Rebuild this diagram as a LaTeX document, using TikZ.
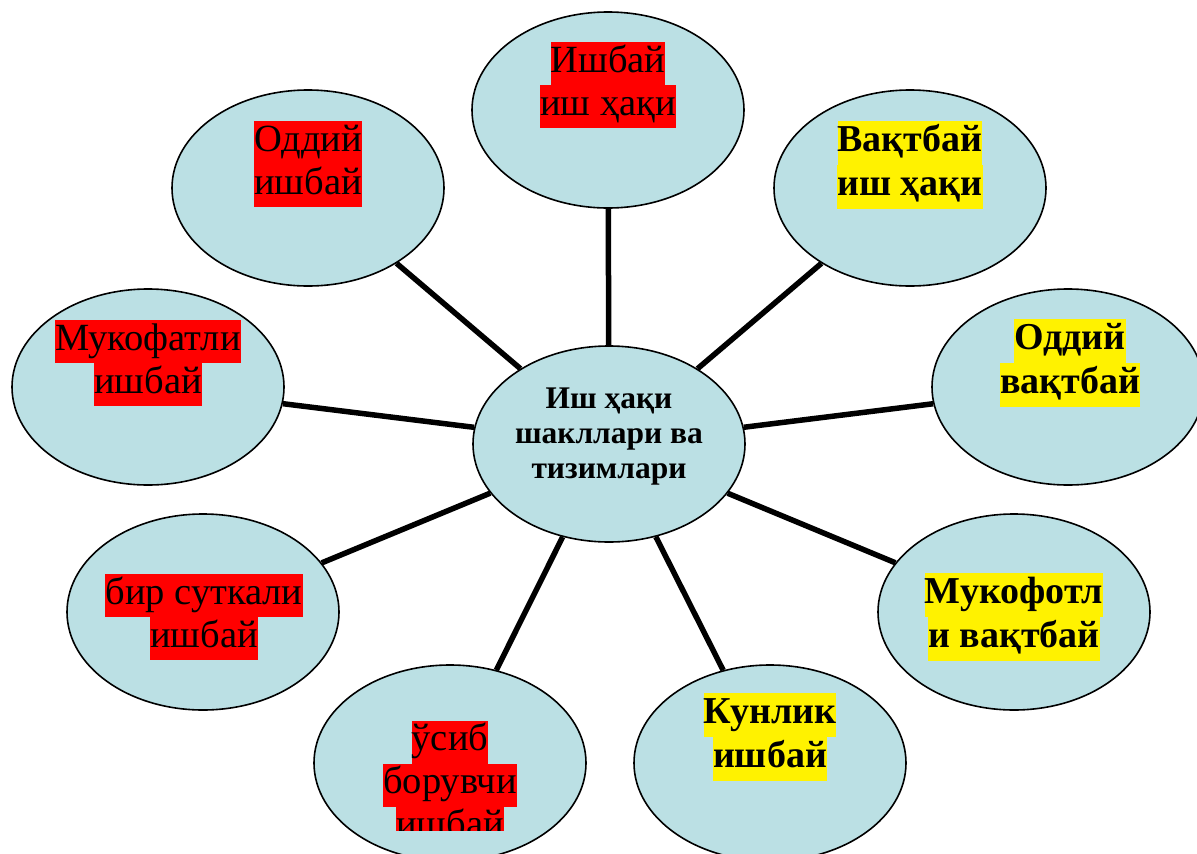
\documentclass[tikz,border=0pt]{standalone}
\usepackage{fontspec}
\setmainfont{Liberation Serif}
\usetikzlibrary{shapes.geometric}

\definecolor{blobfill}{RGB}{187,224,228}
\setlength{\fboxsep}{0pt}
\newcommand{\hlred}[1]{\colorbox{red}{\strut #1}}
\newcommand{\hlyel}[1]{\colorbox{yellow}{\strut #1}}

\tikzset{
  blob/.style={ellipse, draw, line width=1.6pt, fill=blobfill,
    minimum width=272pt, minimum height=196pt, inner sep=0pt},
  spoke/.style={line width=5.5pt},
  redtxt/.style={font=\fontsize{38.5}{43}\selectfont, align=center, inner sep=0pt},
  yeltxt/.style={font=\fontsize{38}{44}\selectfont\bfseries, align=center, inner sep=0pt},
  hubtxt/.style={font=\fontsize{31.5}{35}\selectfont\bfseries, align=center, inner sep=0pt}
}

\begin{document}
\begin{tikzpicture}[x=1pt, y=-1pt]
  \useasboundingbox (0,0) rectangle (1197,854);
  \clip (0,0) rectangle (1197,854);
  % ellipses
  \node[blob] (hub) at (609,444) {};
  \node[blob] (top) at (608,110) {};
  \node[blob] (tl) at (308,188) {};
  \node[blob] (tr) at (910,188) {};
  \node[blob] (l) at (148,387) {};
  \node[blob] (r) at (1068,387) {};
  \node[blob] (bl) at (203,612) {};
  \node[blob] (br) at (1014,612) {};
  \node[blob] (b) at (450,763) {};
  \node[blob] (bc) at (770,763) {};
  % spokes
  \draw[spoke] (hub) -- (top);
  \draw[spoke] (hub) -- (tl);
  \draw[spoke] (hub) -- (tr);
  \draw[spoke] (hub) -- (l);
  \draw[spoke] (hub) -- (r);
  \draw[spoke] (hub) -- (bl);
  \draw[spoke] (hub) -- (br);
  \draw[spoke] (hub) -- (b);
  \draw[spoke] (hub) -- (bc);
  % texts
  \node[hubtxt] (hub-t) at (609,437) {Иш ҳақи\\шакллари ва\\тизимлари};
  \node[redtxt] (top-t) at (608,85) {\hlred{Ишбай}\\\hlred{иш ҳақи}};
  \node[redtxt] (tl-t) at (308,164) {\hlred{Оддий}\\\hlred{ишбай}};
  \node[redtxt] (l-t) at (148,363) {\hlred{Мукофатли}\\\hlred{ишбай}};
  \node[redtxt] (bl-t) at (204,617) {\hlred{бир суткали}\\\hlred{ишбай}};
  \node[yeltxt] (tr-t) at (910,165) {\hlyel{Вақтбай}\\\hlyel{иш ҳақи}};
  \node[yeltxt] (r-t) at (1070,363) {\hlyel{Оддий}\\\hlyel{вақтбай}};
  \node[yeltxt] (br-t) at (1014,617) {\hlyel{Мукофотл}\\\hlyel{и вақтбай}};
  \node[yeltxt] (bc-t) at (770,737) {\hlyel{Кунлик}\\\hlyel{ишбай}};
  \begin{scope}
    \clip (0,0) rectangle (1197,830);
    \node[redtxt] (b-t) at (450,785) {\hlred{ўсиб}\\\hlred{борувчи}\\\hlred{ишбай}};
  \end{scope}
\end{tikzpicture}
\end{document}
